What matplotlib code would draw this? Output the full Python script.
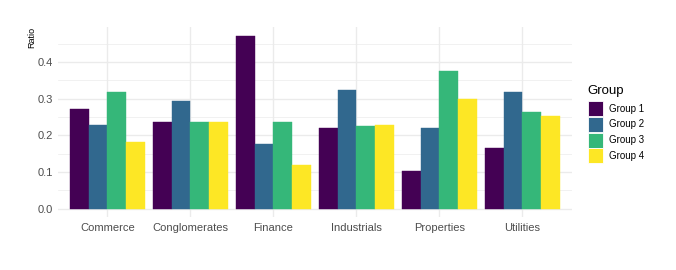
import matplotlib
matplotlib.use("Agg")
import matplotlib.pyplot as plt
import numpy as np
from matplotlib.patches import Patch

plt.rcParams['font.family'] = ['Liberation Sans', 'DejaVu Sans']

sectors = ["Commerce", "Conglomerates", "Finance", "Industrials", "Properties", "Utilities"]
groups = ["Group 1", "Group 2", "Group 3", "Group 4"]
group1 = [0.272, 0.236, 0.472, 0.221, 0.104, 0.165]
group2 = [0.227, 0.294, 0.177, 0.325, 0.220, 0.319]
group3 = [0.319, 0.236, 0.236, 0.225, 0.376, 0.263]
group4 = [0.182, 0.236, 0.118, 0.229, 0.300, 0.252]
colors = ["#440154", "#31688E", "#35B779", "#FDE725"]

W, H = 676, 270
fig = plt.figure(figsize=(W / 100, H / 100), dpi=100)
ax = fig.add_axes([57.5 / W, (H - 217.3) / H, (572 - 57.5) / W, (217.3 - 27) / H])

x = np.arange(1, len(sectors) + 1)
bw = 0.9 / 4
for i, (vals, col) in enumerate(zip([group1, group2, group3, group4], colors)):
    ax.bar(x + (i - 1.5) * bw, vals, width=bw, color=col, edgecolor=col,
           linewidth=0.3, zorder=3)

ymax = max(group1 + group2 + group3 + group4)
ax.set_xlim(0.4, len(sectors) + 0.6)
ax.set_ylim(-0.05 * ymax, 1.05 * ymax)

ax.set_yticks([0.0, 0.1, 0.2, 0.3, 0.4])
ax.set_yticklabels(["0.0", "0.1", "0.2", "0.3", "0.4"])
ax.set_yticks([0.05, 0.15, 0.25, 0.35, 0.45], minor=True)
ax.set_xticks(x)
ax.set_xticklabels(sectors)
ax.tick_params(axis='both', which='both', length=0, labelsize=8, labelcolor="#4D4D4D")
ax.tick_params(axis='x', pad=4)
ax.tick_params(axis='y', pad=3)

ax.grid(True, which='major', color="#EBEBEB", linewidth=1.0, zorder=0)
ax.grid(True, which='minor', axis='y', color="#EBEBEB", linewidth=0.5, zorder=0)
for s in ax.spines.values():
    s.set_visible(False)

ax.set_ylabel("Ratio", fontsize=6.5, color="black", loc='top', labelpad=1)

handles = [Patch(facecolor=c, edgecolor="white", linewidth=0.6, label=g) for c, g in zip(colors, groups)]
leg = fig.legend(handles=handles, loc='upper left', bbox_to_anchor=(579 / W, 1 - 76 / H),
                 title="Group", frameon=False, fontsize=7, title_fontsize=9.5,
                 handlelength=1.6, handleheight=2.0, handletextpad=0.6,
                 labelspacing=0.08, alignment='left')
leg._legend_box.sep = 3

fig.savefig("out.png", dpi=100)
